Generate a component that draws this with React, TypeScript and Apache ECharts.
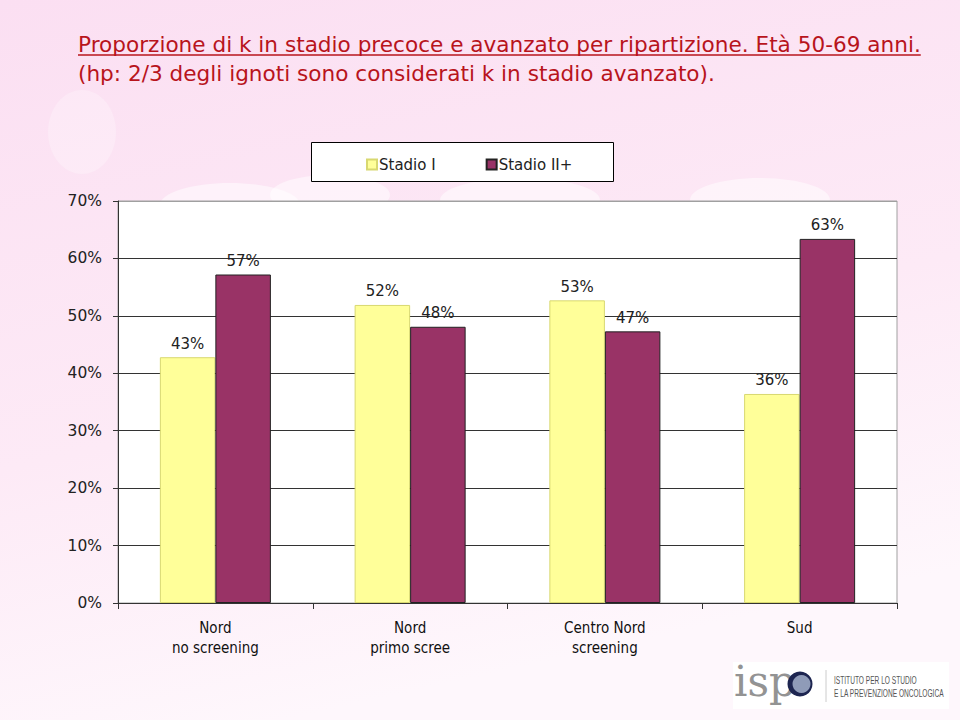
import React, { useEffect, useRef } from "react";
import * as echarts from "echarts";

const categories = ["Nord\nno screening", "Nord\nprimo scree", "Centro Nord\nscreening", "Sud"];
const stadioI = [42.8, 51.9, 52.7, 36.4];
const stadioII = [57.2, 48.1, 47.3, 63.4];
const yTicks = [0, 10, 20, 30, 40, 50, 60, 70];
const titleLine1 = "Proporzione di k in stadio precoce e avanzato per ripartizione. Età 50-69 anni.";
const titleLine2 = "(hp: 2/3 degli ignoti sono considerati k in stadio avanzato).";
const seriesNames = ["Stadio I", "Stadio II+"];

const TITLE_FONT = '21.6px "DejaVu Sans", Verdana, sans-serif';
const NARROW = '"DejaVu Sans Condensed", "Liberation Sans Narrow", "Arial Narrow", "Liberation Sans", sans-serif';

function measure(text: string, font: string): number {
  const c = document.createElement("canvas").getContext("2d");
  if (!c) return 840;
  c.font = font;
  return c.measureText(text).width;
}

export default function App() {
  const ref = useRef<HTMLDivElement>(null);
  useEffect(() => {
    if (!ref.current) return;
    document.body.style.margin = "0";
    const chart = echarts.init(ref.current, undefined, { renderer: "svg" });
    const w1 = measure(titleLine1, TITLE_FONT);
    const red = "#b8141c";
    const splitColors = yTicks.map((v, i) => (i === yTicks.length - 1 ? "#a0a0a0" : "#333"));
    const labelFmt = (p: any) => Math.round(p.value) + "%";
    const logoSmall = '10px "Liberation Sans", Arial, sans-serif';
    chart.setOption({
      animation: false,
      backgroundColor: {
        type: "linear",
        x: 0, y: 0, x2: 0.3, y2: 1,
        colorStops: [
          { offset: 0, color: "#fbdff2" },
          { offset: 0.6, color: "#fdeaf6" },
          { offset: 1, color: "#fef7fc" },
        ],
      },
      graphic: [
        { type: "ellipse", shape: { cx: 82, cy: 132, rx: 34, ry: 42 }, style: { fill: "rgba(255,255,255,0.25)" }, z: -10 },
        { type: "ellipse", shape: { cx: 230, cy: 205, rx: 70, ry: 22 }, style: { fill: "rgba(255,255,255,0.5)" }, z: -10 },
        { type: "ellipse", shape: { cx: 330, cy: 195, rx: 60, ry: 20 }, style: { fill: "rgba(255,255,255,0.5)" }, z: -10 },
        { type: "ellipse", shape: { cx: 520, cy: 200, rx: 80, ry: 22 }, style: { fill: "rgba(255,255,255,0.5)" }, z: -10 },
        { type: "ellipse", shape: { cx: 760, cy: 200, rx: 70, ry: 22 }, style: { fill: "rgba(255,255,255,0.5)" }, z: -10 },
        {
          type: "text", left: 78, top: 33,
          style: { text: titleLine1, font: TITLE_FONT, fill: red },
        },
        {
          type: "line",
          shape: { x1: 78, y1: 55, x2: 78 + w1, y2: 55 },
          style: { stroke: red, lineWidth: 1.3 },
        },
        {
          type: "text", left: 78, top: 62,
          style: { text: titleLine2, font: TITLE_FONT, fill: red },
        },
        {
          type: "rect",
          shape: { x: 311.5, y: 142.5, width: 302, height: 39 },
          style: { fill: "#ffffff", stroke: "#000", lineWidth: 1 },
          z: 0,
        },
        {
          type: "group",
          x: 733, y: 662,
          children: [
            { type: "rect", shape: { x: 0, y: 0, width: 216, height: 47 }, style: { fill: "#ffffff" } },
            { type: "text", x: 1, y: 40, style: { text: "isp", font: '42px "DejaVu Serif", "Liberation Serif", serif', fill: "#939393", verticalAlign: "bottom" } },
            { type: "circle", shape: { cx: 67, cy: 22, r: 12.5 }, style: { fill: "#1d2550" } },
            { type: "circle", shape: { cx: 68.5, cy: 22, r: 9 }, style: { fill: "#8f9bb8" } },
            { type: "line", shape: { x1: 93, y1: 8, x2: 93, y2: 40 }, style: { stroke: "#cccccc", lineWidth: 1 } },
            { type: "text", x: 101, y: 18, scaleX: 0.66, style: { text: "ISTITUTO PER LO STUDIO", font: logoSmall, fill: "#555", verticalAlign: "middle" } },
            { type: "text", x: 101, y: 31, scaleX: 0.66, style: { text: "E LA PREVENZIONE ONCOLOGICA", font: logoSmall, fill: "#555", verticalAlign: "middle" } },
          ],
        },
      ],
      legend: {
        data: seriesNames,
        left: 361,
        top: 152,
        itemWidth: 10,
        itemHeight: 10,
        itemGap: 50,
        icon: "rect",
        textStyle: { fontFamily: '"DejaVu Sans", Tahoma, sans-serif', fontSize: 15, color: "#222", padding: [0, 0, 0, -3] },
        z: 5,
      },
      grid: {
        left: 118, right: 63, top: 201, bottom: 117,
        show: true, backgroundColor: "#ffffff", borderColor: "#a0a0a0", borderWidth: 1,
      },
      xAxis: {
        type: "category",
        data: categories,
        axisLine: { lineStyle: { color: "#333" } },
        axisTick: { show: true, length: 6, lineStyle: { color: "#333" } },
        axisLabel: {
          fontFamily: NARROW,
          fontSize: 15, lineHeight: 20, color: "#111", margin: 15,
        },
      },
      yAxis: {
        type: "value",
        min: 0, max: 70, interval: 10,
        axisLine: { show: true, lineStyle: { color: "#333" } },
        axisTick: { show: true, length: 5, lineStyle: { color: "#333" } },
        splitLine: { show: true, lineStyle: { color: splitColors, width: 1 } },
        axisLabel: {
          formatter: "{value}%",
          fontFamily: '"DejaVu Sans", Tahoma, sans-serif',
          fontSize: 15.5, color: "#222", margin: 16,
        },
      },
      series: [
        {
          name: seriesNames[0],
          type: "bar",
          data: stadioI,
          barGap: "0%",
          barCategoryGap: "43%",
          itemStyle: { color: "#ffff99", borderColor: "#d8d870", borderWidth: 1 },
          label: {
            show: true, position: "top", distance: 6, formatter: labelFmt,
            fontFamily: '"DejaVu Sans", Tahoma, sans-serif', fontSize: 15, color: "#222",
          },
        },
        {
          name: seriesNames[1],
          type: "bar",
          data: stadioII,
          itemStyle: { color: "#993366", borderColor: "#222", borderWidth: 1 },
          label: {
            show: true, position: "top", distance: 6, formatter: labelFmt,
            fontFamily: '"DejaVu Sans", Tahoma, sans-serif', fontSize: 15, color: "#222",
          },
        },
      ],
    });
    return () => chart.dispose();
  }, []);
  return <div ref={ref} style={{ position: "absolute", left: 0, top: 0, width: 960, height: 720 }} />;
}
